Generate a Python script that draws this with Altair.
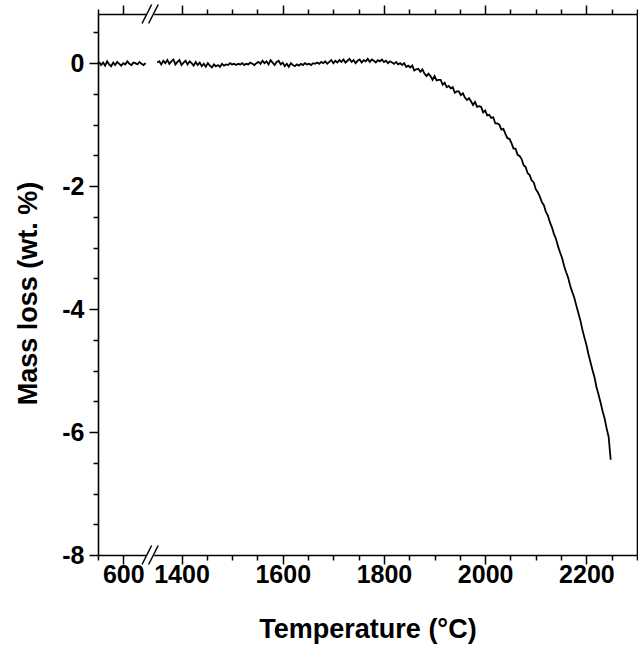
import altair as alt
import pandas as pd

# ---------------- data ----------------
temp_left = list(range(552, 648, 4))
loss_left = [0.02, -0.03, 0.01, -0.04, 0.03, -0.02, -0.05, 0.01, -0.03, 0.02,
             -0.01, -0.04, 0.00, -0.02, 0.03, -0.01, -0.03, 0.01, 0.00, -0.02,
             0.02, -0.01, -0.03, 0.00]

temp_flat = list(range(1352, 1840, 4))
loss_flat = [0.01, 0.03, -0.02, 0.04, 0.00, 0.05, -0.01, 0.03, 0.06, -0.02,
             0.02, 0.05, -0.03, 0.01, 0.04, -0.02, 0.03, 0.00, -0.04, 0.02,
             -0.03, 0.01, -0.05, -0.01, -0.06, 0.00, -0.04, -0.07, -0.02, -0.05,
             -0.03, -0.06, -0.01, -0.04, -0.02, -0.03, 0.00, -0.02, -0.01, -0.03,
             -0.01, -0.02, 0.00, -0.03, -0.01, -0.02, 0.01, -0.01, -0.03, 0.00,
             0.02, -0.01, 0.04, 0.00, 0.03, -0.02, 0.05, 0.01, -0.03, 0.02,
             0.04, -0.02, 0.01, -0.05, -0.01, -0.06, 0.00, -0.03, -0.05, -0.02,
             -0.04, -0.01, -0.03, 0.00, -0.02, -0.01, -0.03, 0.00, -0.01, 0.01,
             -0.01, 0.02, 0.00, 0.03, -0.01, 0.02, 0.05, 0.00, 0.04, 0.01,
             0.05, 0.02, 0.06, 0.01, 0.04, 0.07, 0.02, 0.05, 0.00, 0.04,
             0.06, 0.01, 0.05, 0.03, 0.07, 0.02, 0.06, 0.04, 0.01, 0.05,
             0.03, 0.06, 0.02, 0.04, 0.00, 0.03, 0.01, -0.01, 0.02, -0.02,
             0.00, -0.03]

temp_drop = list(range(1840, 2252, 4))
loss_drop = [0.00, -0.06, -0.04, -0.07, -0.04, -0.12, -0.10, -0.09, -0.14, -0.10,
             -0.17, -0.21, -0.17, -0.21, -0.27, -0.21, -0.28, -0.27, -0.27, -0.35,
             -0.32, -0.39, -0.37, -0.41, -0.39, -0.48, -0.46, -0.46, -0.52, -0.49,
             -0.56, -0.60, -0.57, -0.62, -0.68, -0.63, -0.71, -0.70, -0.71, -0.80,
             -0.77, -0.85, -0.84, -0.89, -0.88, -0.98, -0.98, -1.00, -1.08, -1.07,
             -1.15, -1.22, -1.23, -1.30, -1.39, -1.39, -1.49, -1.51, -1.56, -1.66,
             -1.69, -1.79, -1.82, -1.91, -1.94, -2.05, -2.10, -2.17, -2.26, -2.31,
             -2.42, -2.48, -2.59, -2.67, -2.78, -2.86, -2.98, -3.08, -3.17, -3.30,
             -3.40, -3.49, -3.62, -3.72, -3.81, -3.94, -4.06, -4.18, -4.33, -4.46,
             -4.58, -4.73, -4.86, -4.99, -5.11, -5.27, -5.39, -5.52, -5.66, -5.78,
             -5.94, -6.08, -6.45]

x_tick_temps = [550, 600] + list(range(1400, 2301, 50))
y_tick_vals = [v / 2 for v in range(-16, 2)]

# ---------------- axis break mapping ----------------
SPLIT = 1000
OFFSET = 685
X_DOMAIN = [550, 2300 - OFFSET]
Y_DOMAIN = [-8, 0.8]


def to_axis(t):
    return t if t < SPLIT else t - OFFSET


rows = []
for t, v in zip(temp_left, loss_left):
    rows.append({"T": t, "loss": v, "seg": "a"})
for t, v in zip(temp_flat + temp_drop, loss_flat + loss_drop):
    rows.append({"T": t, "loss": v, "seg": "b"})
df = pd.DataFrame(rows)
df["xp"] = df["T"].apply(to_axis)

x_tick_vals = [to_axis(t) for t in x_tick_temps]

# break decoration (in axis units)
gap_df = pd.DataFrame({
    "x": [647, 647], "x2": [661, 661],
    "y": [0.8 - 0.06, -8 - 0.06], "y2": [0.8 + 0.06, -8 + 0.06],
})
slash_rows = []
for y0 in [0.8, -8]:
    for xs in [637, 650]:
        slash_rows.append({"x": xs, "x2": xs + 19, "y": y0 - 0.155, "y2": y0 + 0.155})
slash_df = pd.DataFrame(slash_rows)

FONT = "Liberation Sans"
real_t = f"(datum.value < 660 ? datum.value : datum.value + {OFFSET})"
x_major = f"{real_t} % 200 == 0"
y_major = "datum.value % 2 == 0"

xscale = alt.Scale(domain=X_DOMAIN, nice=False, zero=False)
yscale = alt.Scale(domain=Y_DOMAIN, nice=False, zero=False)

common_axis = dict(
    domainColor="black", domainWidth=1.6, tickColor="black", tickWidth=1.5,
    grid=False, labelOverlap=False, labelFlush=False, zindex=0,
)

x_bottom = alt.Axis(
    orient="bottom", values=x_tick_vals,
    tickSize={"condition": {"test": x_major, "value": 9}, "value": 5},
    labelExpr=f"{x_major} ? '' + {real_t} : ''",
    labelFont=FONT, labelFontSize=25, labelFontWeight="bold", labelColor="black",
    labelBaseline="alphabetic", labelPadding=18,
    title="Temperature (°C)", titleFont=FONT, titleFontSize=27, titleFontWeight="bold",
    titleColor="black", titleBaseline="alphabetic", titleY=82,
    **common_axis,
)
y_left = alt.Axis(
    orient="left", values=y_tick_vals,
    tickSize={"condition": {"test": y_major, "value": 9}, "value": 5},
    labelExpr=f"{y_major} ? '' + datum.value : ''",
    labelFont=FONT, labelFontSize=25, labelFontWeight="bold", labelColor="black",
    labelPadding=5,
    title="Mass loss (wt. %)", titleFont=FONT, titleFontSize=27, titleFontWeight="bold",
    titleColor="black", titleBaseline="alphabetic", titleX=-62, titleY=279,
    **common_axis,
)
x_top = alt.Axis(
    orient="top", values=x_tick_vals,
    tickSize={"condition": {"test": x_major, "value": 9}, "value": 5},
    labels=False, title=None, **common_axis,
)
y_right = alt.Axis(
    orient="right", ticks=False, labels=False, title=None, **common_axis,
)

line = alt.Chart(df).mark_line(color="black", strokeWidth=1.8).encode(
    x=alt.X("xp:Q", scale=xscale, axis=x_bottom),
    y=alt.Y("loss:Q", scale=yscale, axis=y_left),
    detail="seg:N",
)

gap = alt.Chart(gap_df).mark_rect(color="white").encode(
    x=alt.X("x:Q", scale=xscale, axis=x_top),
    x2="x2:Q",
    y=alt.Y("y:Q", scale=yscale, axis=y_right),
    y2="y2:Q",
)

slashes = alt.Chart(slash_df).mark_rule(color="black", strokeWidth=1.5).encode(
    x=alt.X("x:Q", scale=xscale, axis=None),
    x2="x2:Q",
    y=alt.Y("y:Q", scale=yscale, axis=None),
    y2="y2:Q",
)

chart = alt.layer(line, gap, slashes).resolve_scale(
    x="shared", y="shared"
).resolve_axis(
    x="independent", y="independent"
).properties(
    width=539, height=541,
    autosize=alt.AutoSizeParams(type="none"),
    padding={"left": 98, "top": 14, "right": 1, "bottom": 90},
    background="white",
).configure_view(stroke=None)

chart.save("out.html", embed_options={"renderer": "svg", "actions": False})
